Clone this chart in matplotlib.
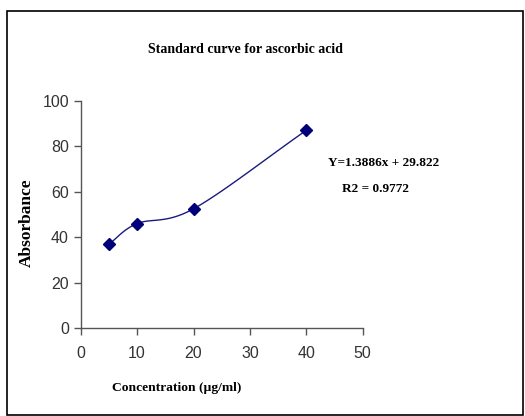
import numpy as np
import matplotlib
matplotlib.use("Agg")
import matplotlib.pyplot as plt
from matplotlib.patches import Rectangle

conc = [5, 10, 20, 40]
absorb = [37, 46, 52.5, 87]
x_ticks = [0, 10, 20, 30, 40, 50]
y_ticks = [0, 20, 40, 60, 80, 100]
title = "Standard curve for ascorbic acid"
eq_text = "Y=1.3886x + 29.822"
r2_text = "R2 = 0.9772"


def smooth(xs, ys, n=30):
    # catmull-rom style smoothing, like the excel "smoothed line"
    xs = np.asarray(xs, float)
    ys = np.asarray(ys, float)
    px = np.concatenate([[2 * xs[0] - xs[1]], xs, [2 * xs[-1] - xs[-2]]])
    py = np.concatenate([[2 * ys[0] - ys[1]], ys, [2 * ys[-1] - ys[-2]]])
    ox, oy = [], []
    t = np.linspace(0, 1, n)
    for i in range(1, len(px) - 2):
        for p, o in ((px, ox), (py, oy)):
            p0, p1, p2, p3 = p[i - 1], p[i], p[i + 1], p[i + 2]
            m1 = (p2 - p0) / 6
            m2 = (p3 - p1) / 6
            c1 = p1 + m1
            c2 = p2 - m2
            o.extend((1 - t) ** 3 * p1 + 3 * (1 - t) ** 2 * t * c1 + 3 * (1 - t) * t ** 2 * c2 + t ** 3 * p2)
    return ox, oy


narrow = ["Liberation Sans Narrow", "Liberation Sans", "DejaVu Sans"]
serif = ["Liberation Serif", "DejaVu Serif"]

fig = plt.figure(figsize=(5.25, 4.16), dpi=100)
fig.patches.append(Rectangle((7 / 525, 0.002), 516 / 525, 1 - 11 / 416 - 0.002,
                             transform=fig.transFigure, fill=False,
                             edgecolor="black", linewidth=1.2))
ax = fig.add_axes([0.1537, 0.2108, 0.5372, 0.5471])

sx, sy = smooth(conc, absorb)
ax.plot(sx, sy, color="#1a1a80", linewidth=1.0)
ax.plot(conc, absorb, linestyle="none", marker="D", markersize=6,
        color="#00007a")

ax.set_xlim(0, 50)
ax.set_ylim(0, 100)
ax.set_xticks(x_ticks)
ax.set_yticks(y_ticks)
for s in ["top", "right"]:
    ax.spines[s].set_visible(False)
for s in ["left", "bottom"]:
    ax.spines[s].set_color("#555555")
    ax.spines[s].set_linewidth(1.0)
ax.tick_params(direction="out", length=5, color="#555555", width=1.0,
               labelcolor="#333333", labelsize=11.5)
for lab in ax.get_xticklabels() + ax.get_yticklabels():
    lab.set_family(narrow)
ax.tick_params(axis="x", pad=8)

fig.text(0.467, 0.88, title, ha="center", va="center", fontsize=10,
         fontweight="bold", family=serif)
fig.text(0.052, 0.465, "Absorbance", rotation=90, ha="center", va="center",
         fontsize=12.5, fontweight="bold", family=serif)
fig.text(0.337, 0.067, "Concentration (µg/ml)", ha="center", va="center",
         fontsize=9.7, fontweight="bold", family=serif)
fig.text(0.731, 0.608, eq_text, ha="center", va="center", fontsize=9.5,
         fontweight="bold", family=serif)
fig.text(0.716, 0.546, r2_text, ha="center", va="center", fontsize=9.5,
         fontweight="bold", family=serif)

fig.savefig("out.png", dpi=100)
